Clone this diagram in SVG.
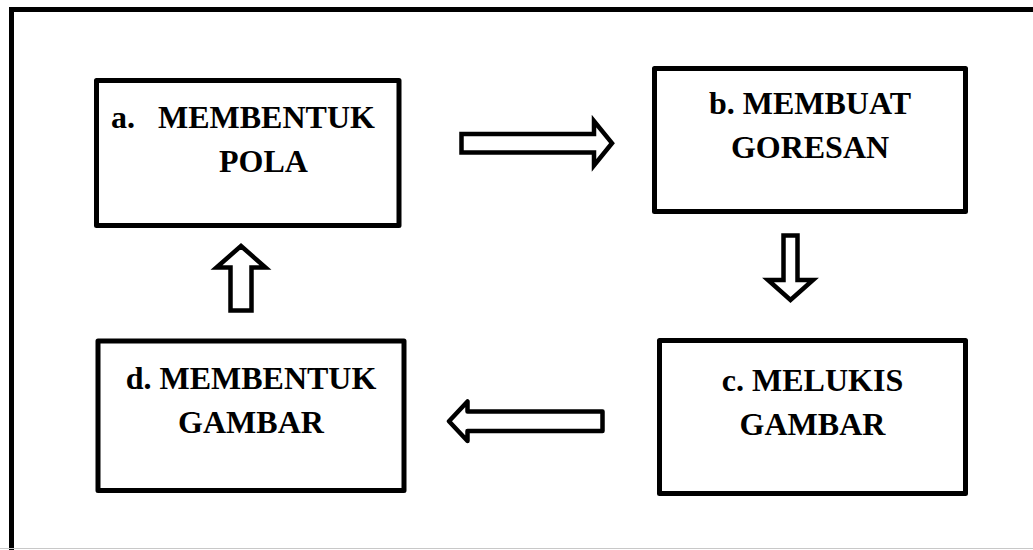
<svg xmlns="http://www.w3.org/2000/svg" width="1033" height="550" viewBox="0 0 1033 550">
  <style>
    .box { fill: #ffffff; stroke: #000000; stroke-width: 5; stroke-linejoin: round; }
    .arrow { fill: #ffffff; stroke: #000000; stroke-width: 4.5; stroke-linejoin: miter; }
    .lbl { font-family: "Liberation Serif", "Times New Roman", serif; font-weight: bold; font-size: 32px; fill: #000000; }
  </style>
  <rect x="0" y="0" width="1033" height="550" fill="#ffffff"/>
  <g id="frame">
    <rect x="11.5" y="9.5" width="1040" height="560" fill="none" stroke="#000000" stroke-width="5"/>
    <line x1="0" y1="548.5" x2="1033" y2="548.5" stroke="#c8c8c8" stroke-width="1"/>
  </g>
  <g id="node-a">
    <rect class="box" x="96.5" y="80.5" width="302.5" height="145"/>
    <text class="lbl" x="111" y="128">a.</text>
    <text class="lbl" x="158" y="128">MEMBENTUK</text>
    <text class="lbl" x="219" y="172">POLA</text>
  </g>
  <g id="node-b">
    <rect class="box" x="654.5" y="68.5" width="311" height="143"/>
    <text class="lbl" x="810" y="114" text-anchor="middle">b. MEMBUAT</text>
    <text class="lbl" x="810" y="158" text-anchor="middle">GORESAN</text>
  </g>
  <g id="node-c">
    <rect class="box" x="659.5" y="340.5" width="306" height="153"/>
    <text class="lbl" x="812.5" y="391" text-anchor="middle">c. MELUKIS</text>
    <text class="lbl" x="812.5" y="435" text-anchor="middle">GAMBAR</text>
  </g>
  <g id="node-d">
    <rect class="box" x="98" y="341" width="306" height="149.5"/>
    <text class="lbl" x="251" y="389" text-anchor="middle">d. MEMBENTUK</text>
    <text class="lbl" x="251" y="433" text-anchor="middle">GAMBAR</text>
  </g>
  <g id="connectors">
    <polygon class="arrow" points="461.5,134 594,134 594,121 612,143.2 594,165.5 594,152.5 461.5,152.5"/>
    <polygon class="arrow" points="783.5,235.5 797.5,235.5 797.5,280 813,280 790.5,300 768,280 783.5,280"/>
    <polygon class="arrow" style="stroke-linejoin: round;" points="449,421.3 467.5,401.5 467.5,411.5 602.5,411.5 602.5,431 467.5,431 467.5,441"/>
    <polygon class="arrow" points="241,246 265.5,267.5 251.5,267.5 251.5,310.5 230.5,310.5 230.5,267.5 216.5,267.5"/>
  </g>
</svg>
